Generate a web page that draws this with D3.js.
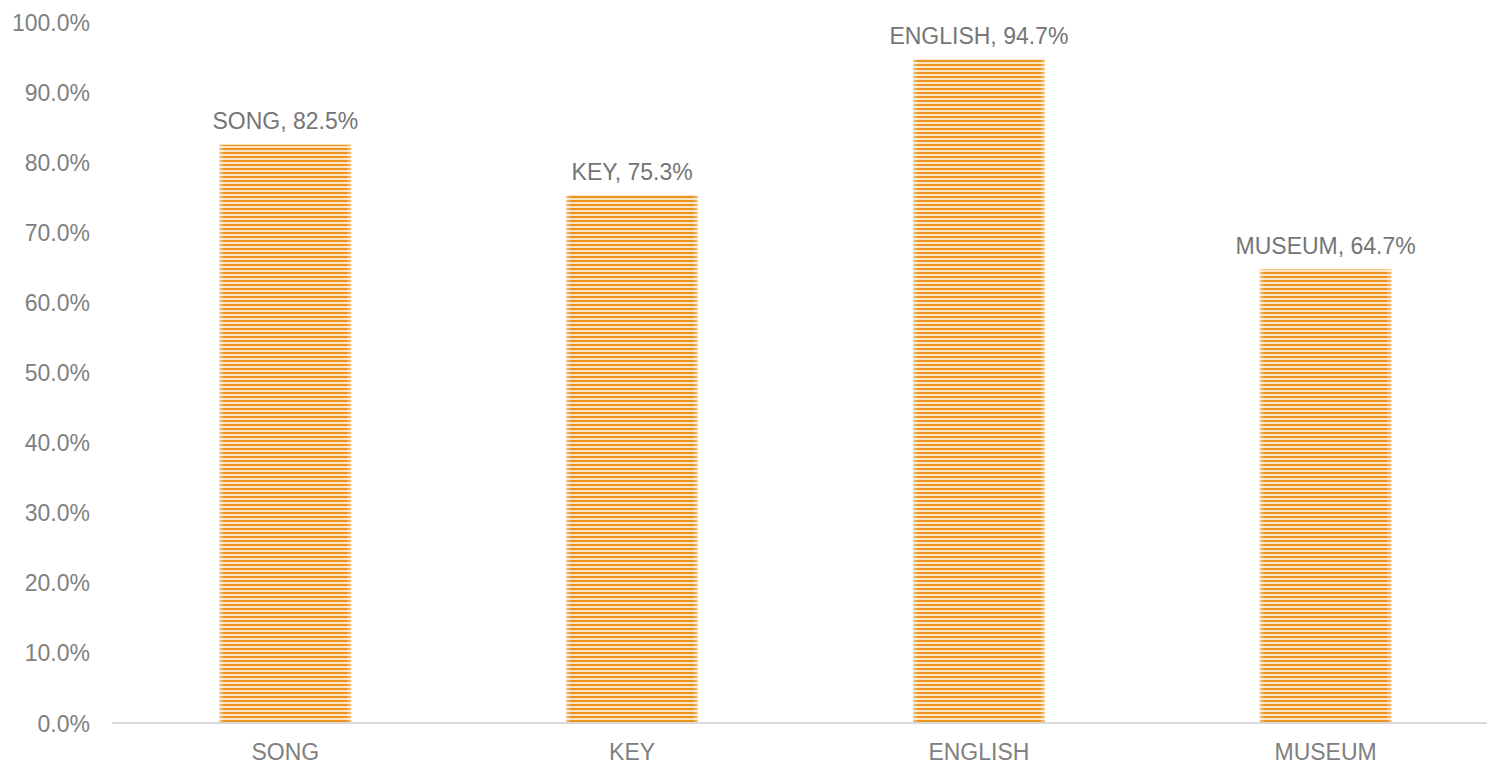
<!DOCTYPE html>
<html><head><meta charset="utf-8">
<script src="https://cdn.jsdelivr.net/npm/d3@7"></script>
<style>body{margin:0;background:#fff;} text{font-family:"Liberation Sans",Arial,sans-serif;}</style>
</head><body>
<svg id="c" width="1487" height="764"></svg>
<script>
const categories = ["SONG","KEY","ENGLISH","MUSEUM"];
const values = [82.5, 75.3, 94.7, 64.7];
const yTicks = [0,10,20,30,40,50,60,70,80,90,100];

const W = 1487, H = 764;
const m = {left:112, right:-12, top:22, bottom:41};
const svg = d3.select("#c");
const defs = svg.append("defs");
const pat = defs.append("pattern").attr("id","stripes").attr("patternUnits","userSpaceOnUse")
  .attr("width",8).attr("height",4);
pat.append("rect").attr("width",8).attr("height",4).attr("fill","#FCE5C6");
pat.append("rect").attr("width",8).attr("height",2).attr("fill","#E9951F");
const grad = defs.append("linearGradient").attr("id","edge").attr("x1","0").attr("x2","1");
grad.append("stop").attr("offset","0").attr("stop-color","#fff").attr("stop-opacity",0.45);
grad.append("stop").attr("offset","0.04").attr("stop-color","#fff").attr("stop-opacity",0);
grad.append("stop").attr("offset","0.96").attr("stop-color","#fff").attr("stop-opacity",0);
grad.append("stop").attr("offset","1").attr("stop-color","#fff").attr("stop-opacity",0.45);

const x = d3.scaleBand().domain(categories).range([m.left, W - m.right]).paddingInner(0.62).paddingOuter(0.31);
const y = d3.scaleLinear().domain([0,100]).range([H - m.bottom, m.top]);

// y tick labels
svg.append("g").selectAll("text").data(yTicks).join("text")
  .attr("x", 90).attr("y", d => y(d) + 0.5).attr("dy","0.35em")
  .attr("text-anchor","end").attr("font-size",23).attr("fill","#808080")
  .text(d => d.toFixed(1) + "%");

// bars
const data = categories.map((c,i)=>({c, v:values[i]}));
svg.append("g").selectAll("rect").data(data).join("rect")
  .attr("x", d => x(d.c)).attr("width", x.bandwidth())
  .attr("y", d => y(d.v)).attr("height", d => y(0) - y(d.v))
  .attr("fill","url(#stripes)");
svg.append("g").selectAll("rect").data(data).join("rect")
  .attr("x", d => x(d.c)).attr("width", x.bandwidth())
  .attr("y", d => y(d.v)).attr("height", d => y(0) - y(d.v))
  .attr("fill","url(#edge)");

// x axis line
svg.append("line").attr("x1", m.left).attr("x2", W).attr("y1", y(0)).attr("y2", y(0))
  .attr("stroke","#d9d9d9").attr("stroke-width",2);

// category labels
svg.append("g").selectAll("text").data(categories).join("text")
  .attr("x", d => x(d) + x.bandwidth()/2).attr("y", y(0) + 29).attr("dy","0.35em")
  .attr("text-anchor","middle").attr("font-size",23).attr("fill","#808080")
  .text(d => d);

// data labels
svg.append("g").selectAll("text").data(data).join("text")
  .attr("x", d => x(d.c) + x.bandwidth()/2).attr("y", d => y(d.v) - 23.5).attr("dy","0.35em")
  .attr("text-anchor","middle").attr("font-size",23).attr("fill","#757575")
  .text(d => d.c + ", " + d.v.toFixed(1) + "%");
</script>
</body></html>
